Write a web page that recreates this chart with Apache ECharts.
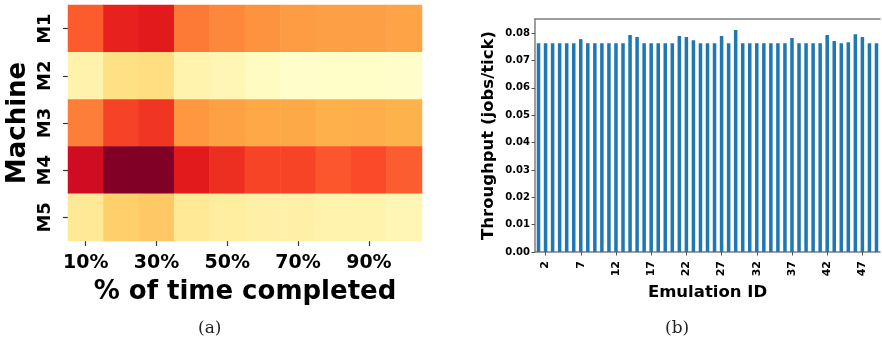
<!DOCTYPE html>
<html>
<head>
<meta charset="utf-8">
<script src="https://cdn.jsdelivr.net/npm/echarts@6/dist/echarts.min.js"></script>
<style>
  html, body { margin: 0; padding: 0; background: #ffffff; }
  #chart { width: 882px; height: 352px; }
</style>
</head>
<body>
<div id="chart"></div>
<script>
// (a) Per-machine load over the course of a run (normalised 0..1)
const machines = ['M1', 'M2', 'M3', 'M4', 'M5'];
const progress = ['10%', '20%', '30%', '40%', '50%', '60%', '70%', '80%', '90%', '100%'];
const loadM1 = [0.60, 0.73, 0.75, 0.54, 0.51, 0.48, 0.45, 0.44, 0.44, 0.425];
const loadM2 = [0.09, 0.205, 0.22, 0.085, 0.065, 0.03, 0.005, 0.01, 0.01, 0.005];
const loadM3 = [0.53, 0.655, 0.685, 0.465, 0.435, 0.41, 0.405, 0.38, 0.385, 0.375];
const loadM4 = [0.815, 0.995, 1.0, 0.75, 0.70, 0.65, 0.65, 0.61, 0.635, 0.595];
const loadM5 = [0.155, 0.28, 0.30, 0.155, 0.125, 0.105, 0.105, 0.085, 0.085, 0.065];

// (b) Throughput of each emulation run
const emulationIds = ['1', '2', '3', '4', '5', '6', '7', '8', '9', '10',
  '11', '12', '13', '14', '15', '16', '17', '18', '19', '20',
  '21', '22', '23', '24', '25', '26', '27', '28', '29', '30',
  '31', '32', '33', '34', '35', '36', '37', '38', '39', '40',
  '41', '42', '43', '44', '45', '46', '47', '48', '49'];
const throughput = [0.0763, 0.0763, 0.0763, 0.0763, 0.0763, 0.0763, 0.0778, 0.0763, 0.0763, 0.0763,
  0.0763, 0.0763, 0.0763, 0.0793, 0.0786, 0.0763, 0.0763, 0.0763, 0.0763, 0.0763,
  0.0789, 0.0786, 0.0774, 0.0763, 0.0763, 0.0763, 0.0789, 0.0763, 0.0811, 0.0763,
  0.0763, 0.0763, 0.0763, 0.0763, 0.0763, 0.0763, 0.0782, 0.0763, 0.0763, 0.0763,
  0.0763, 0.0793, 0.0771, 0.0763, 0.0767, 0.0796, 0.0786, 0.0763, 0.0763];
const throughputTicks = [0, 0.01, 0.02, 0.03, 0.04, 0.05, 0.06, 0.07, 0.08];

const ylOrRd = ['#ffffcc', '#ffeda0', '#fed976', '#feb24c', '#fd8d3c',
  '#fc4e2a', '#e31a1c', '#bd0026', '#800026'];

const font = 'DejaVu Sans';
const rows = [loadM1, loadM2, loadM3, loadM4, loadM5];
const heatData = [];
rows.forEach((row, r) => row.forEach((v, c) => heatData.push([c, r, v])));

const chart = echarts.init(document.getElementById('chart'), null, { renderer: 'canvas' });

chart.setOption({
  animation: false,
  backgroundColor: '#ffffff',
  grid: [
    { left: 68, top: 5, width: 354, height: 236 },
    { left: 535, top: 19, width: 345, height: 233 }
  ],
  xAxis: [
    {
      gridIndex: 0, type: 'category', data: progress,
      axisLine: { show: false },
      axisTick: { show: true, interval: 1, alignWithLabel: true, length: 5,
        lineStyle: { color: '#333', width: 1.2 } },
      axisLabel: { interval: 1, margin: 13, color: '#000',
        fontFamily: font, fontWeight: 'bold', fontSize: 19 },
      splitLine: { show: false },
      name: '% of time completed', nameLocation: 'middle', nameGap: 38,
      nameTextStyle: { color: '#000', fontFamily: font, fontWeight: 'bold', fontSize: 26 }
    },
    {
      gridIndex: 1, type: 'category', data: emulationIds,
      axisLine: { show: true, lineStyle: { color: '#7f7f7f', width: 1.5 } },
      axisTick: { show: true, alignWithLabel: true, length: 3.5,
        interval: (i) => i % 5 === 1, lineStyle: { color: '#555', width: 1 } },
      axisLabel: { interval: (i) => i % 5 === 1, rotate: 90, margin: 9,
        color: '#000', fontFamily: font, fontWeight: 'bold', fontSize: 11 },
      name: 'Emulation ID', nameLocation: 'middle', nameGap: 26,
      nameTextStyle: { color: '#000', fontFamily: font, fontWeight: 'bold', fontSize: 16.5 }
    },
    {
      // top spine of the throughput panel
      gridIndex: 1, type: 'category', data: emulationIds, position: 'top',
      axisLine: { show: true, lineStyle: { color: '#7f7f7f', width: 1.5 } },
      axisTick: { show: false }, axisLabel: { show: false }
    }
  ],
  yAxis: [
    {
      gridIndex: 0, type: 'category', data: machines, inverse: true,
      axisLine: { show: false },
      axisTick: { show: true, alignWithLabel: true, length: 5,
        lineStyle: { color: '#333', width: 1.2 } },
      axisLabel: { rotate: 90, align: 'center', verticalAlign: 'bottom', margin: 14,
        color: '#000', fontFamily: font, fontWeight: 'bold', fontSize: 18 },
      name: 'Machine', nameLocation: 'middle', nameRotate: 90, nameGap: 37,
      nameTextStyle: { color: '#000', fontFamily: font, fontWeight: 'bold', fontSize: 26 }
    },
    {
      gridIndex: 1, type: 'value', min: 0,
      max: Math.max(...throughput) * 1.05,
      axisLine: { show: true, lineStyle: { color: '#7f7f7f', width: 1.5 } },
      axisTick: { show: true, length: 3.5, customValues: throughputTicks,
        lineStyle: { color: '#555', width: 1 } },
      axisLabel: { customValues: throughputTicks, margin: 5,
        formatter: (v) => v.toFixed(2),
        color: '#000', fontFamily: font, fontWeight: 'bold', fontSize: 10 },
      splitLine: { show: false },
      name: 'Throughput (jobs/tick)', nameLocation: 'middle', nameRotate: 90, nameGap: 38,
      nameTextStyle: { color: '#000', fontFamily: font, fontWeight: 'bold', fontSize: 16.5 }
    }
  ],
  visualMap: {
    show: false, type: 'continuous', min: 0, max: 1, seriesIndex: 0,
    inRange: { color: ylOrRd }
  },
  series: [
    {
      type: 'heatmap', xAxisIndex: 0, yAxisIndex: 0, data: heatData,
      itemStyle: { borderWidth: 0 },
      emphasis: { disabled: true }
    },
    {
      type: 'bar', xAxisIndex: 1, yAxisIndex: 1, data: throughput,
      barWidth: '50%', itemStyle: { color: '#1f77b4' }
    }
  ],
  graphic: [
    { type: 'text', left: 198, top: 320,
      style: { text: '(a)', fontFamily: 'DejaVu Serif', fontSize: 17, fill: '#222' } },
    { type: 'text', left: 665, top: 320,
      style: { text: '(b)', fontFamily: 'DejaVu Serif', fontSize: 17, fill: '#222' } }
  ]
});
</script>
</body>
</html>
